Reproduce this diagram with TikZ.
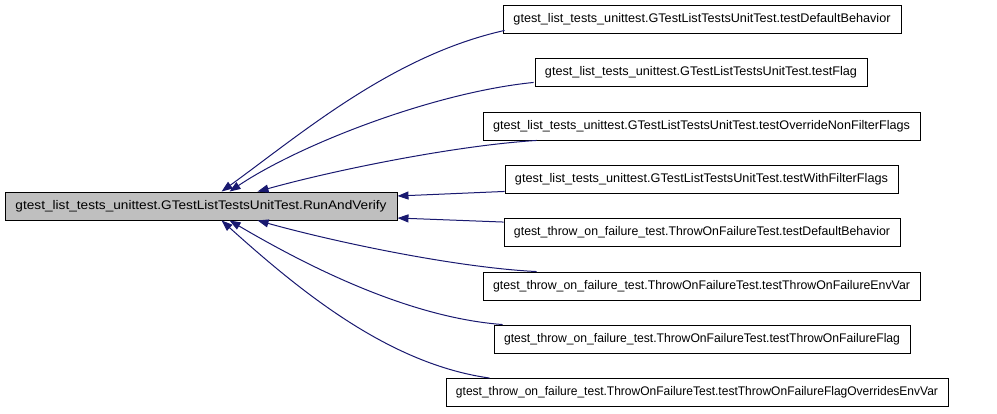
\documentclass[tikz,border=0pt]{standalone}
\usepackage{fontspec}
\usepackage{graphicx}
\setmainfont{Liberation Sans}
\usetikzlibrary{arrows.meta,calc}
\definecolor{edgeblue}{HTML}{191970}
\definecolor{mainfill}{HTML}{BFBFBF}
\newcommand{\fitw}[2]{\resizebox{#1}{\height}{#2}}
\begin{document}
\begin{tikzpicture}[x=1pt,y=-1pt,
  box/.style={draw=black,line width=0.9pt,rectangle,minimum height=28pt,inner sep=0pt,font=\fontsize{12.5}{15}\selectfont},
  mainbox/.style={box,fill=mainfill},
  edge/.style={draw=edgeblue,line width=1pt,-{Triangle[length=11pt,width=8pt]}}]
\useasboundingbox (0,0) rectangle (997,413);
\node[mainbox,minimum width=392pt] (main) at (201,206) {\fitw{371pt}{gtest\_list\_tests\_unittest.GTestListTestsUnitTest.RunAndVerify}};
\node[box,minimum width=398pt] (b1) at (702,19) {\fitw{377pt}{gtest\_list\_tests\_unittest.GTestListTestsUnitTest.testDefaultBehavior}};
\node[box,minimum width=332pt] (b2) at (701,72.5) {\fitw{312pt}{gtest\_list\_tests\_unittest.GTestListTestsUnitTest.testFlag}};
\node[box,minimum width=437pt] (b3) at (701.5,126) {\fitw{417pt}{gtest\_list\_tests\_unittest.GTestListTestsUnitTest.testOverrideNonFilterFlags}};
\node[box,minimum width=393pt] (b4) at (701.5,179) {\fitw{373pt}{gtest\_list\_tests\_unittest.GTestListTestsUnitTest.testWithFilterFlags}};
\node[box,minimum width=396pt] (b5) at (702,232.5) {\fitw{376pt}{gtest\_throw\_on\_failure\_test.ThrowOnFailureTest.testDefaultBehavior}};
\node[box,minimum width=437pt] (b6) at (701.5,286) {\fitw{417pt}{gtest\_throw\_on\_failure\_test.ThrowOnFailureTest.testThrowOnFailureEnvVar}};
\node[box,minimum width=416pt] (b7) at (702,339) {\fitw{396pt}{gtest\_throw\_on\_failure\_test.ThrowOnFailureTest.testThrowOnFailureFlag}};
\node[box,minimum width=502pt] (b8) at (697,392.5) {\fitw{482pt}{gtest\_throw\_on\_failure\_test.ThrowOnFailureTest.testThrowOnFailureFlagOverridesEnvVar}};
% connectors
\draw[edge] ($(b1.south west)+(2,-3)$) .. controls +(-112,25) and +(80,-58) .. ($(main.north west)+(217,0)$);
\draw[edge] ($(b2.south west)+(-1,-4.5)$) .. controls +(-100,10) and +(70,-47) .. ($(main.north west)+(225,0)$);
\draw[edge] ($(b3.south west)+(54,0)$) .. controls +(-80,5) and +(79,-22) .. ($(main.north west)+(253,0)$);
\draw[edge] ($(b4.south west)+(0,-2)$) -- ($(main.east)+(0,-10)$);
\draw[edge] ($(b5.north west)+(0,4)$) -- ($(main.east)+(0,12)$);
\draw[edge] ($(b6.north west)+(54,0)$) .. controls +(-80,-4) and +(79,22) .. ($(main.south west)+(253,0)$);
\draw[edge] ($(b7.north west)+(9,0)$) .. controls +(-93,-7) and +(80,47) .. ($(main.south west)+(225,0)$);
\draw[edge] ($(b8.north west)+(44,0)$) .. controls +(-100,-14) and +(80,72) .. ($(main.south west)+(217,0)$);
\end{tikzpicture}
\end{document}
